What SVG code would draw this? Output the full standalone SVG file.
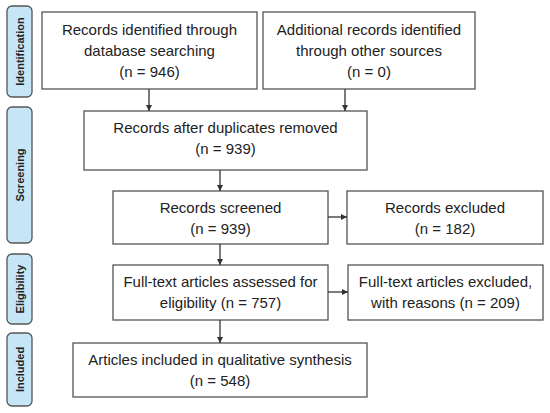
<svg xmlns="http://www.w3.org/2000/svg" width="550" height="413" viewBox="0 0 550 413">
<defs>
<marker id="ah" markerWidth="8" markerHeight="8" refX="7" refY="4" orient="auto" markerUnits="userSpaceOnUse">
<path d="M1,1 L7,4 L1,7 Z" fill="#333"/>
</marker>
<style>
.box{fill:#fff;stroke:#555;stroke-width:1.3}
.side{fill:#c6e6f8;stroke:#555;stroke-width:1.3}
.t{font-family:"Liberation Sans",Arial,sans-serif;font-size:15px;fill:#222;text-anchor:middle}
.s{font-family:"Liberation Sans",Arial,sans-serif;font-size:11px;font-weight:bold;fill:#222;text-anchor:middle}
.c{stroke:#333;stroke-width:1.3;fill:none;marker-end:url(#ah)}
</style>
</defs>
<rect width="550" height="413" fill="#fff"/>
<g id="side-identification"><rect class="side" x="7" y="6" width="25" height="91" rx="5"/><text class="s" transform="translate(23.5,51.5) rotate(-90)">Identification</text></g>
<g id="side-screening"><rect class="side" x="7" y="107" width="25" height="136" rx="5"/><text class="s" transform="translate(23.5,175) rotate(-90)">Screening</text></g>
<g id="side-eligibility"><rect class="side" x="7" y="254" width="25" height="70" rx="5"/><text class="s" transform="translate(23.5,289) rotate(-90)">Eligibility</text></g>
<g id="side-included"><rect class="side" x="7" y="333" width="25" height="73" rx="5"/><text class="s" transform="translate(23.5,369.5) rotate(-90)">Included</text></g>

<g id="n1"><rect class="box" x="42" y="12" width="215" height="77"/><text class="t" x="149.5" y="35">Records identified through</text><text class="t" x="149.5" y="56">database searching</text><text class="t" x="149.5" y="77">(n = 946)</text></g>
<g id="n2"><rect class="box" x="263" y="12" width="212" height="77"/><text class="t" x="369" y="35">Additional records identified</text><text class="t" x="369" y="56">through other sources</text><text class="t" x="369" y="77">(n = 0)</text></g>
<g id="n3"><rect class="box" x="84" y="111" width="283" height="59"/><text class="t" x="225.5" y="133">Records after duplicates removed</text><text class="t" x="225.5" y="154">(n = 939)</text></g>
<g id="n4"><rect class="box" x="113" y="191" width="215" height="53"/><text class="t" x="220.5" y="213">Records screened</text><text class="t" x="220.5" y="234">(n = 939)</text></g>
<g id="n5"><rect class="box" x="347" y="191" width="196" height="53"/><text class="t" x="445" y="213">Records excluded</text><text class="t" x="445" y="234">(n = 182)</text></g>
<g id="n6"><rect class="box" x="113" y="265" width="215" height="55"/><text class="t" x="220.5" y="287">Full-text articles assessed for</text><text class="t" x="220.5" y="308">eligibility (n = 757)</text></g>
<g id="n7"><rect class="box" x="348" y="265" width="195" height="55"/><text class="t" x="445.5" y="287">Full-text articles excluded,</text><text class="t" x="445.5" y="308">with reasons (n = 209)</text></g>
<g id="n8"><rect class="box" x="73" y="343" width="294" height="54"/><text class="t" x="220" y="365">Articles included in qualitative synthesis</text><text class="t" x="220" y="386">(n = 548)</text></g>

<g id="connectors">
<line class="c" x1="149" y1="89" x2="149" y2="111"/>
<line class="c" x1="345" y1="89" x2="345" y2="111"/>
<line class="c" x1="220" y1="170" x2="220" y2="191"/>
<line class="c" x1="328" y1="217" x2="347" y2="217"/>
<line class="c" x1="220" y1="244" x2="220" y2="265"/>
<line class="c" x1="328" y1="292" x2="348" y2="292"/>
<line class="c" x1="220" y1="320" x2="220" y2="343"/>
</g>
</svg>
